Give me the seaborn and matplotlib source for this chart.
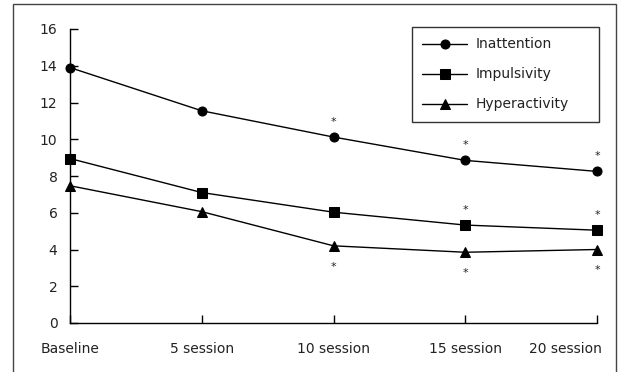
import matplotlib
matplotlib.use("Agg")
import matplotlib.pyplot as plt
import matplotlib.transforms as mtransforms
import seaborn as sns
import pandas as pd
from matplotlib.patches import Rectangle

sessions = ["Baseline", "5 session", "10 session", "15 session", "20 session"]
inattention = [13.9, 11.55, 10.12, 8.85, 8.25]
impulsivity = [8.95, 7.1, 6.03, 5.33, 5.05]
hyperactivity = [7.47, 6.06, 4.2, 3.85, 4.0]

# significance marks: session indices per series
stars_above = {"Inattention": [2, 3, 4], "Impulsivity": [3, 4]}
stars_below = {"Hyperactivity": [2, 3, 4]}

series = {
    "Inattention": inattention,
    "Impulsivity": impulsivity,
    "Hyperactivity": hyperactivity,
}
rows = []
for name, vals in series.items():
    for s, v in zip(sessions, vals):
        rows.append({"session": s, "score": v, "scale": name})
df = pd.DataFrame(rows)

sns.set_style("white")
plt.rcParams["font.family"] = ["DejaVu Sans"]

fig = plt.figure(figsize=(6.21, 3.72), dpi=100)
ax = fig.add_axes([70 / 621, 1 - 323 / 372, 527 / 621, 294 / 372])

sns.lineplot(
    data=df, x="session", y="score", hue="scale", style="scale",
    markers={"Inattention": "o", "Impulsivity": "s", "Hyperactivity": "^"},
    dashes=False, palette=["black"] * 3, linewidth=1, markersize=6.5,
    markeredgecolor="black", ax=ax,
)
for line in ax.lines:
    line.set_clip_on(False)

for name, idxs in stars_above.items():
    for i in idxs:
        ax.annotate("*", (i, series[name][i]), xytext=(0, 11), textcoords="offset points",
                    ha="center", va="center", fontsize=8, color="#222222")
for name, idxs in stars_below.items():
    for i in idxs:
        ax.annotate("*", (i, series[name][i]), xytext=(0, -15), textcoords="offset points",
                    ha="center", va="center", fontsize=8, color="#222222")

ax.set_xlim(0, 4)
ax.set_ylim(0, 16)
ax.set_yticks(range(0, 17, 2))
ax.set_xlabel("")
ax.set_ylabel("")
for side in ["top", "right"]:
    ax.spines[side].set_visible(False)
for side in ["left", "bottom"]:
    ax.spines[side].set_color("black")
    ax.spines[side].set_linewidth(1)
ax.tick_params(axis="both", direction="in", length=6, width=1, color="black",
               bottom=True, left=True, labelsize=10, labelcolor="#222222", pad=9)
ax.tick_params(axis="x", pad=14)

# last category label sits flush with the axis end
last = ax.get_xticklabels()[-1]
last.set_ha("right")
last.set_transform(last.get_transform() + mtransforms.ScaledTranslation(5 / 100, 0, fig.dpi_scale_trans))

leg = ax.legend(loc="upper left", bbox_to_anchor=(0.649, 0.5, 0.355, 0.5068), mode="expand",
                borderaxespad=0, frameon=True, fancybox=False, edgecolor="black",
                fontsize=10, handlelength=3.2, handletextpad=0.6, labelspacing=1.15,
                borderpad=0.75)
leg.get_frame().set_linewidth(1)
for t in leg.get_texts():
    t.set_color("#222222")

fig.patches.append(Rectangle((13 / 621, -0.02), 603 / 621, 1.02 - 4 / 372,
                             transform=fig.transFigure, fill=False,
                             edgecolor="#444444", linewidth=1))

fig.savefig("out.png", dpi=100)
